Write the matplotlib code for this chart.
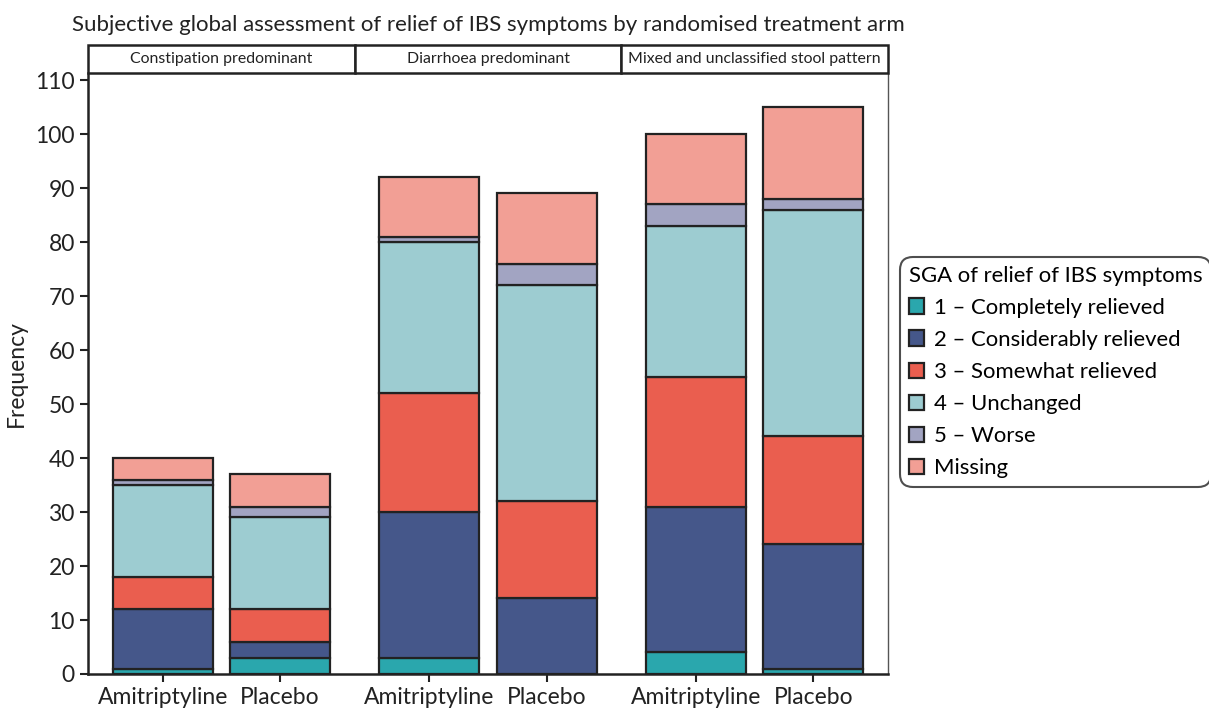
import matplotlib
matplotlib.use("Agg")
import matplotlib.pyplot as plt
from matplotlib.patches import Rectangle

plt.rcParams['font.family'] = ['Lato', 'DejaVu Sans']

panels = ["Constipation predominant", "Diarrhoea predominant",
          "Mixed and unclassified stool pattern"]
arms = ["Amitriptyline", "Placebo"]
categories = ["1 \u2013 Completely relieved", "2 \u2013 Considerably relieved",
              "3 \u2013 Somewhat relieved", "4 \u2013 Unchanged",
              "5 \u2013 Worse", "Missing"]
colors = ["#2AA7AD", "#45578A", "#EA5E4F", "#9DCCD1", "#A2A4C2", "#F29F95"]

# counts per bar, ordered panel by panel (Amitriptyline, Placebo)
completely = [1, 3, 3, 0, 4, 1]
considerably = [11, 3, 27, 14, 27, 23]
somewhat = [6, 6, 22, 18, 24, 20]
unchanged = [17, 17, 28, 40, 28, 42]
worse = [1, 2, 1, 4, 4, 2]
missing = [4, 6, 11, 13, 13, 17]
series = [completely, considerably, somewhat, unchanged, worse, missing]

fig = plt.figure(figsize=(12.09, 7.11), dpi=100)
ax = fig.add_axes([88 / 1209, 37 / 711, 800 / 1209, 601 / 711])

offsets = [0.28, 0.72]
xpos = [p + o for p in range(len(panels)) for o in offsets]
bottoms = [0] * len(xpos)
edge = "#222222"
for vals, col, lab in zip(series, colors, categories):
    ax.bar(xpos, vals, width=0.375, bottom=bottoms, color=col,
           edgecolor=edge, linewidth=1.6, label=lab, zorder=3)
    bottoms = [b + v for b, v in zip(bottoms, vals)]

ax.set_xlim(0, 3)
ax.set_ylim(0, 111.3)
ax.set_yticks(range(0, 111, 10))
ax.set_xticks(xpos)
ax.set_xticklabels(arms * len(panels))
ax.tick_params(axis='both', labelsize=16.5, length=6, width=1.5, color=edge,
               labelcolor="#222222")
ax.tick_params(axis='x', pad=3)
ax.set_ylabel("Frequency", fontsize=16.5, color="#222222", labelpad=6)

ax.spines['top'].set_visible(False)
ax.spines['left'].set_linewidth(1.8)
ax.spines['left'].set_color(edge)
ax.spines['bottom'].set_linewidth(1.8)
ax.spines['bottom'].set_color(edge)
ax.spines['right'].set_linewidth(1.0)
ax.spines['right'].set_color("#555555")

# facet strip above the panels
strip_h = 28 / 601
for i, name in enumerate(panels):
    ax.add_patch(Rectangle((i / 3, 1.0), 1 / 3, strip_h, transform=ax.transAxes,
                           facecolor="white", edgecolor=edge, linewidth=1.8,
                           clip_on=False, zorder=5))
    ax.text((i + 0.5) / 3, 1.0 + strip_h / 2, name, transform=ax.transAxes,
            ha='center', va='center', fontsize=11.4, color="#222222", zorder=6)

fig.text(72 / 1209, 1 - 25 / 711, "Subjective global assessment of relief of IBS symptoms by randomised treatment arm",
         ha='left', va='center', fontsize=16, color="#222222")

leg = ax.legend(loc='center left', bbox_to_anchor=(900 / 1209, 1 - 372 / 711),
                bbox_transform=fig.transFigure, borderaxespad=0,
                title="SGA of relief of IBS symptoms",
                fontsize=15.9, title_fontsize=15.9, frameon=True, fancybox=True,
                edgecolor=edge, handlelength=0.7, handleheight=0.7,
                handletextpad=0.45, labelspacing=0.55, borderpad=0.4,
                alignment='left')
leg.get_frame().set_linewidth(1.5)
leg.get_frame().set_boxstyle("round,pad=0,rounding_size=0.6")

fig.savefig("out.png", dpi=100)
